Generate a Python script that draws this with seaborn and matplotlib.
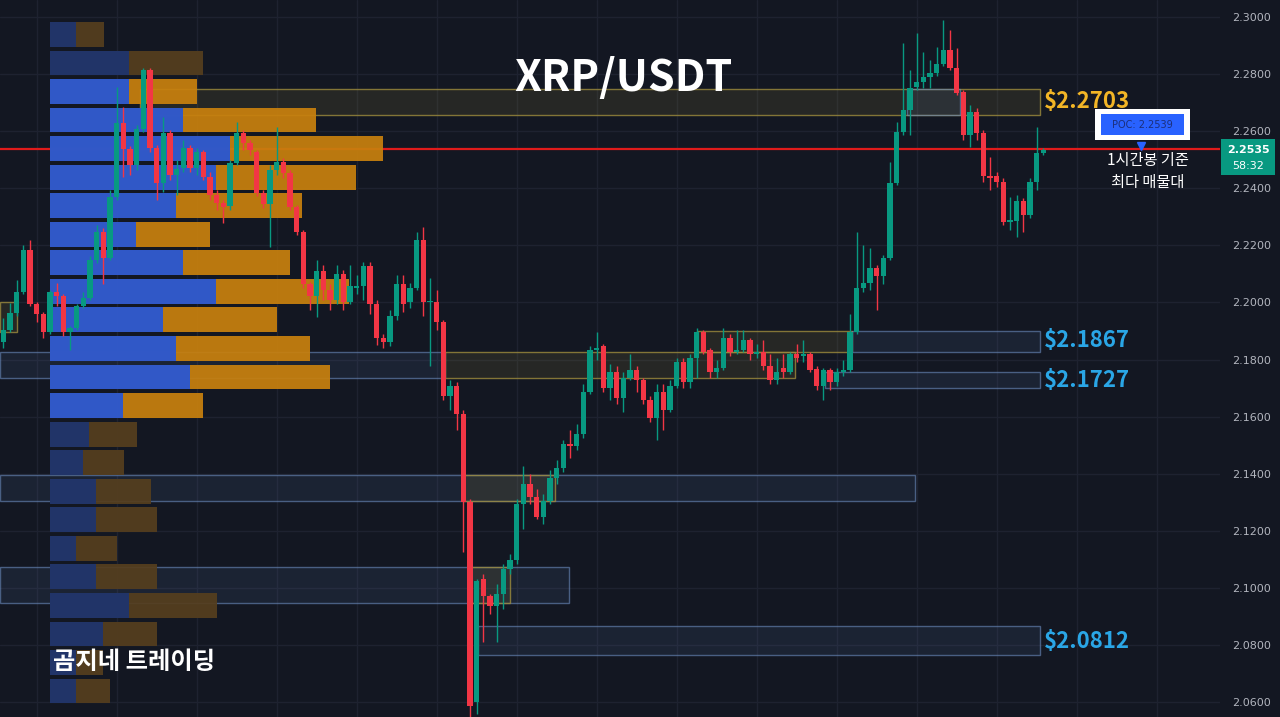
import matplotlib
matplotlib.use("Agg")
import matplotlib.pyplot as plt
import matplotlib.transforms as mtransforms
from matplotlib.patches import Rectangle
import numpy as np
import pandas as pd
import seaborn as sns

# TradingView-like dark palette
BG = "#131722"
GRID = "#1e2230"
UP = "#089981"
DOWN = "#f23645"
VA_BLUE = "#2656d6"
VA_ORANGE = "#c8800e"
DIM_BLUE = "#1e346e"
DIM_ORANGE = "#553e1e"
LEVEL_GOLD = "#f2b526"
LEVEL_BLUE = "#2aa6e6"

# 1h candles, XRP/USDT
OPEN = [2.1860, 2.1905, 2.1964, 2.2038, 2.2185, 2.1993, 2.1958, 2.1898, 2.2035, 2.2021,
        2.1898, 2.1912, 2.1989, 2.2017, 2.2150, 2.2248, 2.2157, 2.2371, 2.2630, 2.2539,
        2.2483, 2.2609, 2.2815, 2.2542, 2.2420, 2.2595, 2.2448, 2.2472, 2.2542, 2.2472,
        2.2528, 2.2441, 2.2378, 2.2350, 2.2339, 2.2490, 2.2595, 2.2560, 2.2528, 2.2385,
        2.2346, 2.2465, 2.2493, 2.2455, 2.2336, 2.2248, 2.2063, 2.2021, 2.2112, 2.2045,
        2.2010, 2.2101, 2.2000, 2.2052, 2.2056, 2.2129, 2.1996, 2.1877, 2.1860, 2.1951,
        2.2063, 2.2000, 2.2052, 2.2220, 2.2000, 2.2003, 2.1930, 2.1671, 2.1706, 2.1611,
        2.1300, 2.0600, 2.1030, 2.0971, 2.0936, 2.0978, 2.1065, 2.1097, 2.1293, 2.1363,
        2.1317, 2.1247, 2.1303, 2.1384, 2.1422, 2.1503, 2.1496, 2.1538, 2.1688, 2.1832,
        2.1846, 2.1702, 2.1755, 2.1664, 2.1737, 2.1765, 2.1730, 2.1660, 2.1597, 2.1688,
        2.1625, 2.1709, 2.1793, 2.1720, 2.1804, 2.1898, 2.1832, 2.1755, 2.1772, 2.1874,
        2.1828, 2.1835, 2.1867, 2.1818, 2.1828, 2.1779, 2.1727, 2.1772, 2.1755, 2.1818,
        2.1811, 2.1818, 2.1768, 2.1709, 2.1762, 2.1720, 2.1755, 2.1765, 2.1895, 2.2052,
        2.2070, 2.2122, 2.2094, 2.2157, 2.2420, 2.2598, 2.2675, 2.2756, 2.2773, 2.2791,
        2.2805, 2.2836, 2.2885, 2.2822, 2.2738, 2.2588, 2.2668, 2.2595, 2.2444, 2.2444,
        2.2423, 2.2283, 2.2287, 2.2357, 2.2308, 2.2423, 2.2525]
HIGH = [2.1947, 2.1999, 2.2080, 2.2203, 2.2220, 2.2003, 2.1968, 2.2045, 2.2070, 2.2031,
        2.1919, 2.1996, 2.2035, 2.2164, 2.2273, 2.2262, 2.2395, 2.2756, 2.2686, 2.2549,
        2.2623, 2.2822, 2.2822, 2.2553, 2.2651, 2.2605, 2.2500, 2.2570, 2.2553, 2.2542,
        2.2535, 2.2458, 2.2395, 2.2360, 2.2500, 2.2633, 2.2605, 2.2570, 2.2535, 2.2395,
        2.2483, 2.2616, 2.2507, 2.2465, 2.2343, 2.2255, 2.2073, 2.2150, 2.2133, 2.2063,
        2.2133, 2.2115, 2.2133, 2.2098, 2.2143, 2.2143, 2.2010, 2.1888, 2.1975, 2.2098,
        2.2098, 2.2070, 2.2248, 2.2266, 2.2087, 2.2045, 2.1940, 2.1730, 2.1720, 2.1625,
        2.1310, 2.1030, 2.1048, 2.0978, 2.1013, 2.1083, 2.1118, 2.1310, 2.1426, 2.1398,
        2.1345, 2.1328, 2.1415, 2.1450, 2.1520, 2.1555, 2.1573, 2.1713, 2.1849, 2.1898,
        2.1853, 2.1783, 2.1776, 2.1755, 2.1818, 2.1776, 2.1737, 2.1671, 2.1713, 2.1713,
        2.1730, 2.1807, 2.1804, 2.1818, 2.1912, 2.1905, 2.1842, 2.1800, 2.1909, 2.1888,
        2.1905, 2.1905, 2.1877, 2.1853, 2.1870, 2.1818, 2.1807, 2.1818, 2.1828, 2.1853,
        2.1870, 2.1828, 2.1779, 2.1772, 2.1772, 2.1772, 2.1800, 2.1958, 2.2248, 2.2203,
        2.2192, 2.2133, 2.2167, 2.2493, 2.2633, 2.2910, 2.2815, 2.2945, 2.2878, 2.2850,
        2.2896, 2.2990, 2.2955, 2.2892, 2.2745, 2.2693, 2.2682, 2.2605, 2.2510, 2.2458,
        2.2437, 2.2371, 2.2378, 2.2367, 2.2437, 2.2616, 2.2542]
LOW = [2.1842, 2.1895, 2.1954, 2.2028, 2.1986, 2.1933, 2.1877, 2.1891, 2.1986, 2.1881,
       2.1835, 2.1905, 2.1982, 2.2010, 2.2140, 2.2063, 2.2150, 2.2360, 2.2441, 2.2448,
       2.2465, 2.2598, 2.2528, 2.2360, 2.2388, 2.2430, 2.2378, 2.2458, 2.2458, 2.2448,
       2.2430, 2.2360, 2.2325, 2.2280, 2.2325, 2.2483, 2.2535, 2.2518, 2.2374, 2.2332,
       2.2196, 2.2448, 2.2437, 2.2325, 2.2238, 2.2052, 2.1975, 2.1950, 2.2010, 2.1975,
       2.1993, 2.1975, 2.1993, 2.2028, 2.2010, 2.1958, 2.1852, 2.1839, 2.1849, 2.1940,
       2.1968, 2.1982, 2.2045, 2.1951, 2.1776, 2.1905, 2.1660, 2.1625, 2.1555, 2.1125,
       2.0520, 2.0558, 2.0810, 2.0908, 2.0810, 2.0925, 2.1048, 2.1083, 2.1205, 2.1293,
       2.1240, 2.1223, 2.1293, 2.1363, 2.1408, 2.1457, 2.1485, 2.1527, 2.1678, 2.1800,
       2.1688, 2.1660, 2.1643, 2.1618, 2.1730, 2.1685, 2.1643, 2.1583, 2.1520, 2.1555,
       2.1615, 2.1702, 2.1702, 2.1702, 2.1737, 2.1818, 2.1737, 2.1737, 2.1765, 2.1814,
       2.1818, 2.1825, 2.1800, 2.1807, 2.1765, 2.1713, 2.1713, 2.1737, 2.1748, 2.1793,
       2.1793, 2.1755, 2.1695, 2.1660, 2.1695, 2.1709, 2.1744, 2.1758, 2.1888, 2.2038,
       2.2045, 2.1975, 2.2063, 2.2150, 2.2413, 2.2588, 2.2588, 2.2745, 2.2752, 2.2752,
       2.2794, 2.2829, 2.2815, 2.2728, 2.2570, 2.2546, 2.2570, 2.2423, 2.2395, 2.2406,
       2.2273, 2.2255, 2.2231, 2.2248, 2.2297, 2.2395, 2.2518]
CLOSE = [2.1905, 2.1964, 2.2038, 2.2185, 2.1993, 2.1958, 2.1898, 2.2035, 2.2021, 2.1898,
         2.1912, 2.1989, 2.2017, 2.2150, 2.2248, 2.2157, 2.2371, 2.2630, 2.2539, 2.2483,
         2.2609, 2.2815, 2.2542, 2.2420, 2.2595, 2.2448, 2.2469, 2.2542, 2.2472, 2.2528,
         2.2441, 2.2378, 2.2350, 2.2336, 2.2490, 2.2595, 2.2560, 2.2535, 2.2385, 2.2346,
         2.2465, 2.2493, 2.2455, 2.2336, 2.2248, 2.2063, 2.2021, 2.2112, 2.2045, 2.2010,
         2.2101, 2.2000, 2.2056, 2.2056, 2.2129, 2.1996, 2.1874, 2.1860, 2.1951, 2.2063,
         2.1996, 2.2052, 2.2220, 2.2003, 2.2003, 2.1930, 2.1671, 2.1706, 2.1611, 2.1300,
         2.0586, 2.1023, 2.0971, 2.0936, 2.0978, 2.1065, 2.1097, 2.1293, 2.1363, 2.1317,
         2.1247, 2.1303, 2.1384, 2.1422, 2.1503, 2.1496, 2.1538, 2.1688, 2.1832, 2.1842,
         2.1702, 2.1755, 2.1664, 2.1737, 2.1765, 2.1730, 2.1660, 2.1597, 2.1688, 2.1625,
         2.1709, 2.1793, 2.1720, 2.1804, 2.1898, 2.1828, 2.1755, 2.1772, 2.1877, 2.1828,
         2.1835, 2.1867, 2.1818, 2.1828, 2.1776, 2.1727, 2.1758, 2.1755, 2.1818, 2.1807,
         2.1818, 2.1765, 2.1709, 2.1762, 2.1720, 2.1755, 2.1765, 2.1895, 2.2052, 2.2070,
         2.2122, 2.2094, 2.2157, 2.2420, 2.2598, 2.2675, 2.2752, 2.2773, 2.2791, 2.2805,
         2.2836, 2.2885, 2.2822, 2.2735, 2.2588, 2.2668, 2.2595, 2.2444, 2.2437, 2.2423,
         2.2283, 2.2290, 2.2357, 2.2308, 2.2423, 2.2525, 2.2535]

# Volume profile (rows of 0.01), buy / sell volume
PROFILE_PRICE = [2.2939, 2.2839, 2.2739, 2.2639, 2.2539, 2.2439, 2.2339, 2.2239,
                 2.2139, 2.2039, 2.1939, 2.1839, 2.1739, 2.1639, 2.1539, 2.1439,
                 2.1339, 2.1239, 2.1139, 2.1039, 2.0939, 2.0839, 2.0739, 2.0639]
BUY_VOL = [26, 79, 79, 133, 180, 166, 126, 86, 133, 166, 113, 126,
           140, 73, 39, 33, 46, 46, 26, 46, 79, 53, 26, 26]
SELL_VOL = [28, 74, 68, 133, 153, 140, 126, 74, 107, 133, 114, 134,
            140, 80, 48, 41, 55, 61, 41, 61, 88, 54, 27, 34]
VALUE_AREA = [False, False, True, True, True, True, True, True,
              True, True, True, True, True, True, False, False,
              False, False, False, False, False, False, False, False]
POC = 2.2539
LAST_PRICE = 2.2535

# Supply / demand zones: top, bottom, first candle, last candle, kind
ZONE_TOP = [2.2748, 2.2748, 2.1901, 2.1901, 2.1828, 2.1828, 2.1755, 2.1394, 2.1394,
            2.1072, 2.1072, 2.0866, 2.2000]
ZONE_BOTTOM = [2.2657, 2.2657, 2.1828, 2.1828, 2.1737, 2.1737, 2.1699, 2.1303, 2.1303,
               2.0946, 2.0946, 2.0764, 2.1895]
ZONE_START = [20.5, 135.5, 104.0, 127.3, -0.5, 66.2, 123.2, -0.5, 68.9, -0.5, 70.0, 71.2, -0.5]
ZONE_END = [155.5, 143.5, 127.3, 155.5, 66.2, 118.7, 155.5, 136.7, 82.7, 84.8, 76.0, 155.5, 2.0]
ZONE_KIND = ["supply", "demand", "supply", "demand", "demand", "supply", "demand",
             "demand", "supply", "demand", "supply", "demand", "supply"]

LEVELS = [2.2703, 2.1867, 2.1727, 2.0812]
LEVEL_KIND = ["supply", "demand", "demand", "demand"]

TICKS = [2.30, 2.28, 2.26, 2.24, 2.22, 2.20, 2.18, 2.16, 2.14, 2.12, 2.10, 2.08, 2.06]

sns.set_theme(style="dark", rc={"axes.facecolor": BG, "figure.facecolor": BG,
                                "axes.edgecolor": BG, "grid.color": GRID})
plt.rcParams["font.family"] = ["Noto Sans CJK KR", "DejaVu Sans"]

W, H = 1280, 717
YLIM = (2.05481, 2.30595)
XLIM = (-0.5, 182.5)

fig = plt.figure(figsize=(W / 100, H / 100), dpi=100)
fig.patch.set_facecolor(BG)
rect = [0, 0, 1220 / W, 1]

ax = fig.add_axes(rect, zorder=0)
ax.set_facecolor(BG)
ax.set_xlim(*XLIM)
ax.set_ylim(*YLIM)
ax.set_xticks(np.arange(5, 183, 12))
ax.set_yticks(TICKS)
ax.set_yticklabels([f"{t:.4f}" for t in TICKS])
ax.yaxis.tick_right()
ax.tick_params(axis="x", length=0, labelbottom=False)
ax.tick_params(axis="y", length=0, pad=9, labelsize=8, labelcolor="#b2b5be")
for lab in ax.get_yticklabels():
    lab.set_family("DejaVu Sans")
ax.grid(True, color=GRID, linewidth=1)
for s in ax.spines.values():
    s.set_visible(False)

# zones
for top, bot, x0, x1, kind in zip(ZONE_TOP, ZONE_BOTTOM, ZONE_START, ZONE_END, ZONE_KIND):
    if kind == "supply":
        fc, ec = (0.55, 0.50, 0.22, 0.16), (0.62, 0.55, 0.24, 0.80)
    else:
        fc, ec = (0.35, 0.48, 0.70, 0.12), (0.42, 0.55, 0.75, 0.60)
    ax.add_patch(Rectangle((x0, bot), x1 - x0, top - bot, facecolor=fc,
                           edgecolor=ec, linewidth=1.0))

ax.axhline(POC, color="#e01b1b", linewidth=1.6)

# volume profile (seaborn, native numeric y)
prof = pd.DataFrame({"price": PROFILE_PRICE, "buy": BUY_VOL, "sell": SELL_VOL,
                     "va": VALUE_AREA})
prof["total"] = prof["buy"] + prof["sell"]
pax = fig.add_axes([50 / W, 0, prof["total"].max() / W, 1], zorder=1)
pax.patch.set_alpha(0)
for flag, c_sell, c_buy in [(True, VA_ORANGE, VA_BLUE), (False, DIM_ORANGE, DIM_BLUE)]:
    sub = prof[prof["va"] == flag]
    for col, color in [("total", c_sell), ("buy", c_buy)]:
        sns.barplot(data=sub, x=col, y="price", orient="y", native_scale=True,
                    color=color, saturation=1, width=0.87, linewidth=0,
                    errorbar=None, alpha=0.93, ax=pax)
pax.set_xlim(0, prof["total"].max())
pax.set_ylim(*YLIM)
pax.axis("off")

# candles
cax = fig.add_axes(rect, zorder=2)
cax.patch.set_alpha(0)
cax.set_xlim(*XLIM)
cax.set_ylim(*YLIM)
cax.axis("off")
ohlc = pd.DataFrame({"o": OPEN, "h": HIGH, "l": LOW, "c": CLOSE})
ohlc["x"] = np.arange(len(ohlc))
colors = np.where(ohlc["c"] >= ohlc["o"], UP, DOWN)
cax.vlines(ohlc["x"], ohlc["l"], ohlc["h"], colors=colors, linewidth=1.0)
body_lo = np.minimum(ohlc["o"], ohlc["c"])
body_h = np.maximum((ohlc["c"] - ohlc["o"]).abs(), 0.0005)
cax.bar(ohlc["x"], body_h, bottom=body_lo, width=0.76, color=colors, linewidth=0)

# level labels
blend = mtransforms.blended_transform_factory(cax.transAxes, cax.transData)
for lvl, kind in zip(LEVELS, LEVEL_KIND):
    cax.text(1044 / 1220, lvl, f"${lvl:.4f}", transform=blend, ha="left", va="center",
             fontsize=16, fontweight="bold",
             color=LEVEL_GOLD if kind == "supply" else LEVEL_BLUE)

# POC callout
cax.add_patch(Rectangle((1095 / 1220, 2.2570), 95 / 1220, 0.0109, transform=blend,
                        facecolor="white", edgecolor="none", clip_on=False))
cax.add_patch(Rectangle((1101 / 1220, 2.2585), 83 / 1220, 0.0076, transform=blend,
                        facecolor="#2962ff", edgecolor="none", clip_on=False))
cax.text(1142.5 / 1220, 2.2623, f"POC: {POC:.4f}", transform=blend, ha="center",
         va="center", fontsize=7, color="#1c2f7a", family="DejaVu Sans")
cax.plot([1141 / 1220], [2.2549], marker="v", markersize=6, color="#2962ff",
         transform=blend, clip_on=False)
cax.text(1148 / 1220, 2.2459, "1시간봉 기준\n최다 매물대", transform=blend, ha="center",
         va="center", fontsize=11, color="white", linespacing=1.35)

# last price tag on the scale
fig.add_artist(Rectangle((1221 / W, 1 - 175 / H), 54 / W, 36 / H, transform=fig.transFigure,
                         facecolor=UP, edgecolor="none"))
fig.text(1248 / W, 1 - 150 / H, f"{LAST_PRICE:.4f}", ha="center", va="center",
         fontsize=8, color="white", family="DejaVu Sans", fontweight="bold")
fig.text(1248 / W, 1 - 166 / H, "58:32", ha="center", va="center",
         fontsize=8, color="white", family="DejaVu Sans")

fig.text(623 / W, 1 - 78 / H, "XRP/USDT", ha="center", va="center", fontsize=31,
         fontweight="bold", color="white")
fig.text(53 / W, 1 - 662 / H, "곰지네 트레이딩", ha="left", va="center", fontsize=17.5,
         fontweight="bold", color="white")

fig.savefig("out.png", dpi=100, facecolor=BG)
